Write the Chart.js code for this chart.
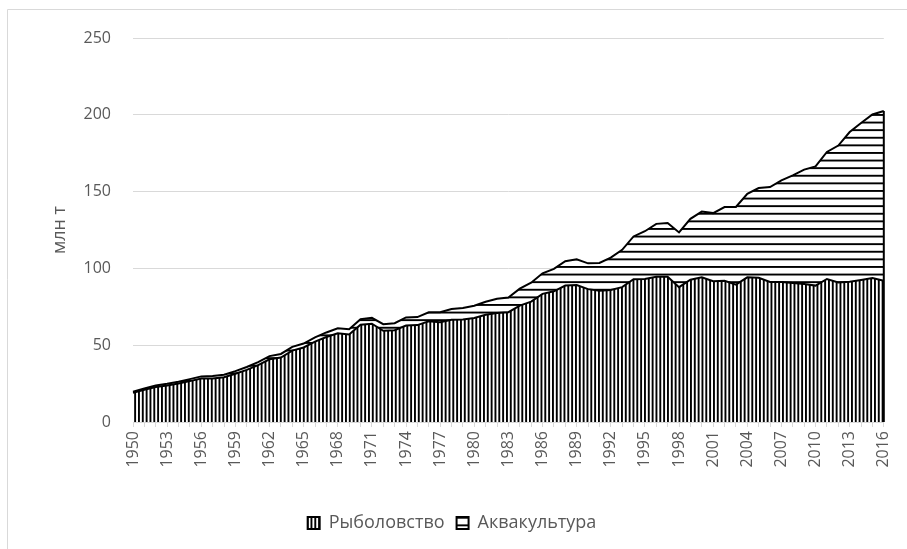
<!DOCTYPE html>
<html lang="ru">
<head>
<meta charset="utf-8">
<title>Рыболовство и аквакультура</title>
<script src="https://cdn.jsdelivr.net/npm/chart.js@4.4.1/dist/chart.umd.min.js"></script>
<style>
  html, body { margin: 0; padding: 0; background: #fff; }
  #wrap { position: relative; width: 907px; height: 549px; }
</style>
</head>
<body>
<div id="wrap"><canvas id="chart" width="907" height="549"></canvas></div>
<script>
(function() {
  'use strict';

  // years 1950..2016, every third one is labelled
  var years = [];
  for (var yr = 1950; yr <= 2016; yr++) years.push(String(yr));
  var labelEvery = 3;

  // млн т
  var fishing = [
    19.0, 21.0, 22.8, 23.8, 25.0, 26.6, 28.3, 28.4, 29.2, 31.4,
    33.9, 37.0, 40.8, 42.0, 46.5, 48.5, 52.3, 55.3, 57.8, 57.0,
    63.3, 64.0, 59.4, 59.8, 62.8, 63.1, 65.6, 64.9, 66.5, 66.7,
    67.7, 69.8, 71.0, 71.5, 75.8, 78.4, 83.4, 85.1, 88.8, 89.2,
    86.5, 85.5, 86.0, 87.8, 93.0, 93.1, 94.6, 94.6, 87.8, 92.6,
    94.2, 91.6, 91.9, 89.4, 94.2, 93.9, 91.2, 91.2, 90.5, 89.9,
    88.8, 93.1, 90.9, 91.3, 92.5, 93.7, 91.9
  ];
  var aquaculture = [
    0.8, 0.9, 1.0, 1.1, 1.2, 1.3, 1.4, 1.5, 1.6, 1.7,
    1.9, 2.0, 2.1, 2.3, 2.4, 2.6, 2.8, 3.0, 3.2, 3.4,
    3.6, 3.8, 4.3, 4.5, 5.3, 5.2, 5.8, 6.5, 7.0, 7.5,
    8.0, 8.5, 9.2, 9.6, 11.0, 12.3, 13.4, 14.6, 15.9, 16.7,
    16.8, 18.0, 21.0, 24.3, 27.8, 31.1, 34.4, 35.0, 35.6, 39.7,
    42.8, 44.4, 48.0, 50.6, 54.4, 58.4, 61.8, 66.1, 70.1, 74.4,
    77.6, 82.7, 89.1, 97.5, 102.2, 106.5, 110.6
  ];
  var yTicks = { min: 0, max: 250, step: 50 };

  var canvas = document.getElementById('chart');
  var ctx = canvas.getContext('2d');
  var textColor = '#595959';
  var lineColor = '#d9d9d9';

  Chart.defaults.font.family = '"Open Sans", "Liberation Sans", sans-serif';

  function stripes(vertical) {
    var c = document.createElement('canvas');
    var g = c.getContext('2d');
    var period = vertical ? 23 : 38;
    var count = vertical ? 6 : 5;
    c.width = vertical ? period : 8;
    c.height = vertical ? 8 : period;
    g.fillStyle = '#fff';
    g.fillRect(0, 0, c.width, c.height);
    g.fillStyle = '#000';
    for (var k = 0; k < count; k++) {
      var p = k * period / count;
      if (vertical) g.fillRect(p, 0, 1.9, c.height);
      else g.fillRect(0, p, c.width, 1.9);
    }
    return ctx.createPattern(c, 'repeat');
  }

  var framePlugin = {
    id: 'frame',
    beforeDraw: function(chart) {
      var c = chart.ctx;
      c.save();
      c.strokeStyle = lineColor;
      c.lineWidth = 1;
      c.beginPath();
      c.moveTo(7.5, chart.height);
      c.lineTo(7.5, 9.5);
      c.lineTo(chart.width, 9.5);
      c.stroke();
      c.restore();
    }
  };

  // closing edge of the stacked area at the last year
  var edgePlugin = {
    id: 'edge',
    afterDatasetsDraw: function(chart) {
      var meta = chart.getDatasetMeta(1);
      var pt = meta.data[meta.data.length - 1];
      if (!pt) return;
      var c = chart.ctx;
      c.save();
      c.strokeStyle = '#000';
      c.lineWidth = 2;
      c.beginPath();
      c.moveTo(pt.x, pt.y);
      c.lineTo(pt.x, chart.scales.y.getPixelForValue(0));
      c.stroke();
      c.restore();
    }
  };

  new Chart(canvas, {
    type: 'line',
    data: {
      labels: years,
      datasets: [
        {
          label: 'Рыболовство',
          data: fishing,
          fill: 'origin',
          backgroundColor: stripes(true),
          borderColor: '#000',
          borderWidth: 2,
          pointRadius: 0,
          tension: 0
        },
        {
          label: 'Аквакультура',
          data: aquaculture,
          fill: '-1',
          backgroundColor: stripes(false),
          borderColor: '#000',
          borderWidth: 2,
          pointRadius: 0,
          tension: 0
        }
      ]
    },
    options: {
      responsive: false,
      animation: false,
      layout: { padding: { top: 38, right: 19, bottom: 7, left: 16 } },
      plugins: {
        tooltip: { enabled: false },
        legend: {
          position: 'bottom',
          labels: {
            color: textColor,
            boxWidth: 12,
            boxHeight: 12,
            padding: 12,
            font: { size: 18 }
          }
        }
      },
      scales: {
        x: {
          type: 'category',
          offset: false,
          grid: { drawOnChartArea: false, drawTicks: true, tickLength: 5, color: lineColor },
          border: { color: lineColor },
          ticks: {
            autoSkip: false,
            minRotation: 90,
            maxRotation: 90,
            color: textColor,
            padding: 4,
            font: { size: 16 },
            callback: function(value, index) {
              return index % labelEvery === 0 ? this.getLabelForValue(value) : '';
            }
          },
          afterFit: function(scale) { scale.height = 80; }
        },
        y: {
          stacked: true,
          min: yTicks.min,
          max: yTicks.max,
          grid: { color: lineColor, drawTicks: false },
          border: { display: false },
          ticks: { stepSize: yTicks.step, color: textColor, padding: 22, font: { size: 16 } },
          title: { display: true, text: 'млн т', color: textColor, font: { size: 18 }, padding: { top: 33, bottom: 0 } },
          afterFit: function(scale) { scale.width = 117; }
        }
      }
    },
    plugins: [framePlugin, edgePlugin]
  });
})();
</script>
</body>
</html>
